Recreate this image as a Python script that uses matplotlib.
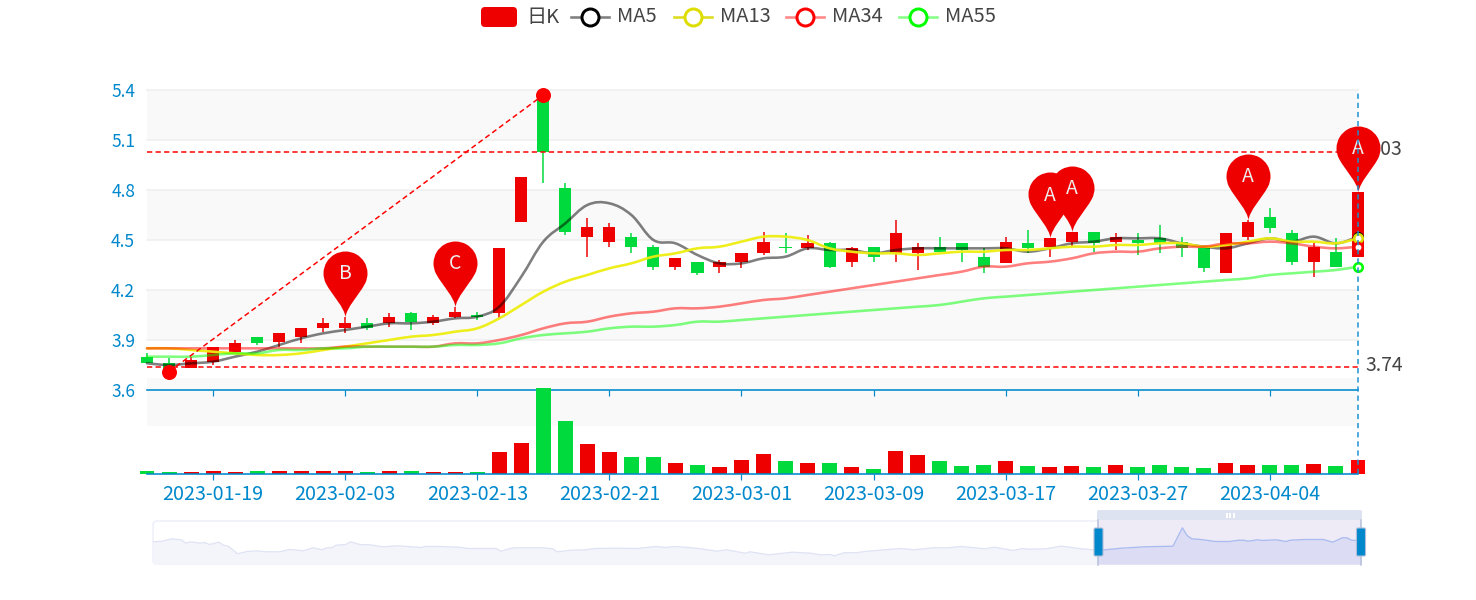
import numpy as np
import matplotlib
matplotlib.use('Agg')
import matplotlib.pyplot as plt
from matplotlib.path import Path
from matplotlib.patches import PathPatch, FancyBboxPatch, Rectangle
from matplotlib.transforms import ScaledTranslation

plt.rcParams['font.family'] = ['Noto Sans CJK SC', 'DejaVu Sans']

# candles (index 0 = 2023-01-16)
opens = [3.80, 3.76, 3.73, 3.77, 3.83, 3.92, 3.89, 3.92, 3.97, 3.97, 4.00, 4.00, 4.06, 4.00, 4.04, 4.05,
         4.06, 4.61, 5.37, 4.81, 4.52, 4.49, 4.52, 4.46, 4.34, 4.37, 4.34, 4.37, 4.42, 4.46, 4.45, 4.48,
         4.37, 4.46, 4.42, 4.42, 4.46, 4.48, 4.40, 4.36, 4.48, 4.46, 4.49, 4.55, 4.49, 4.50, 4.51, 4.49,
         4.45, 4.30, 4.52, 4.64, 4.54, 4.37, 4.43, 4.40]
closes = [3.76, 3.72, 3.78, 3.86, 3.88, 3.88, 3.94, 3.97, 4.00, 4.00, 3.97, 4.04, 4.01, 4.04, 4.07, 4.04,
          4.45, 4.88, 5.03, 4.55, 4.58, 4.58, 4.46, 4.34, 4.39, 4.30, 4.37, 4.42, 4.49, 4.45, 4.48, 4.34,
          4.45, 4.40, 4.54, 4.46, 4.43, 4.44, 4.34, 4.49, 4.45, 4.51, 4.55, 4.48, 4.52, 4.48, 4.48, 4.45,
          4.33, 4.54, 4.61, 4.57, 4.37, 4.46, 4.34, 4.79]
lows = [3.76, 3.71, 3.73, 3.75, 3.83, 3.87, 3.86, 3.88, 3.95, 3.94, 3.96, 3.98, 3.96, 3.99, 4.03, 4.02,
        4.03, 4.61, 4.84, 4.53, 4.40, 4.46, 4.42, 4.32, 4.32, 4.29, 4.30, 4.33, 4.41, 4.42, 4.44, 4.33,
        4.34, 4.37, 4.37, 4.32, 4.43, 4.37, 4.30, 4.36, 4.42, 4.40, 4.46, 4.43, 4.44, 4.41, 4.42, 4.40,
        4.31, 4.30, 4.50, 4.54, 4.35, 4.28, 4.34, 4.40]
highs = [3.82, 3.79, 3.80, 3.86, 3.90, 3.92, 3.94, 3.97, 4.03, 4.04, 4.03, 4.06, 4.07, 4.05, 4.10, 4.07,
         4.45, 4.88, 5.37, 4.84, 4.63, 4.60, 4.54, 4.47, 4.39, 4.37, 4.38, 4.42, 4.55, 4.54, 4.53, 4.49,
         4.46, 4.46, 4.62, 4.48, 4.52, 4.48, 4.45, 4.52, 4.56, 4.51, 4.55, 4.55, 4.54, 4.54, 4.59, 4.52,
         4.45, 4.54, 4.62, 4.69, 4.56, 4.48, 4.51, 4.79]

ma5 = [3.76, 3.75, 3.76, 3.77, 3.80, 3.83, 3.87, 3.91, 3.94, 3.96, 3.98, 4.00, 4.00, 4.01, 4.03, 4.04,
       4.10, 4.28, 4.49, 4.60, 4.71, 4.72, 4.65, 4.50, 4.48, 4.41, 4.36, 4.36, 4.39, 4.40, 4.45, 4.44,
       4.44, 4.42, 4.44, 4.45, 4.45, 4.45, 4.45, 4.45, 4.43, 4.45, 4.48, 4.49, 4.51, 4.51, 4.51, 4.48,
       4.46, 4.45, 4.48, 4.51, 4.49, 4.52, 4.48, 4.52]
ma13 = [3.85, 3.85, 3.84, 3.83, 3.82, 3.81, 3.81, 3.82, 3.84, 3.86, 3.88, 3.90, 3.92, 3.93, 3.95, 3.97,
        4.03, 4.11, 4.19, 4.25, 4.29, 4.33, 4.36, 4.40, 4.42, 4.45, 4.46, 4.49, 4.52, 4.52, 4.50, 4.45,
        4.43, 4.42, 4.42, 4.41, 4.42, 4.43, 4.43, 4.44, 4.44, 4.45, 4.46, 4.46, 4.47, 4.47, 4.48, 4.48,
        4.46, 4.47, 4.49, 4.51, 4.49, 4.49, 4.48, 4.51]
ma34 = [3.85, 3.85, 3.85, 3.85, 3.85, 3.85, 3.85, 3.85, 3.85, 3.86, 3.86, 3.86, 3.86, 3.86, 3.88, 3.88,
        3.90, 3.93, 3.97, 4.00, 4.01, 4.04, 4.06, 4.07, 4.09, 4.09, 4.10, 4.12, 4.14, 4.15, 4.17, 4.19,
        4.21, 4.23, 4.25, 4.27, 4.29, 4.31, 4.34, 4.34, 4.36, 4.37, 4.39, 4.42, 4.43, 4.43, 4.45, 4.46,
        4.46, 4.48, 4.48, 4.49, 4.48, 4.46, 4.45, 4.46]
ma55 = [3.80, 3.80, 3.80, 3.81, 3.82, 3.82, 3.84, 3.84, 3.85, 3.85, 3.86, 3.86, 3.86, 3.86, 3.87, 3.87,
        3.88, 3.91, 3.93, 3.94, 3.95, 3.97, 3.98, 3.98, 3.99, 4.01, 4.01, 4.02, 4.03, 4.04, 4.05, 4.06,
        4.07, 4.08, 4.09, 4.10, 4.11, 4.13, 4.15, 4.16, 4.17, 4.18, 4.19, 4.20, 4.21, 4.22, 4.23, 4.24,
        4.25, 4.26, 4.27, 4.29, 4.30, 4.31, 4.32, 4.34]

volume = [2.7, 2, 1.7, 2.7, 2, 2.7, 2.7, 3, 3, 3, 2, 2.7, 3, 2, 2.3, 2,
          22, 31, 86, 53, 30, 22, 17, 17, 10.7, 8.7, 7.3, 14, 20.3, 13, 11, 10.7,
          7.3, 5, 23, 19, 13, 8.3, 9, 13, 8.3, 6.7, 7.7, 7.3, 8.7, 7.3, 9.3, 7,
          6.3, 11.3, 9, 9.3, 9, 10, 8, 14]

tick_index = [3, 9, 15, 21, 27, 33, 39, 45, 51]
tick_labels = ['2023-01-19', '2023-02-03', '2023-02-13', '2023-02-21', '2023-03-01',
               '2023-03-09', '2023-03-17', '2023-03-27', '2023-04-04']

pin_index = [9, 14, 41, 42, 50, 55]
pin_labels = ['B', 'C', 'A', 'A', 'A', 'A']

min_index, min_price = 1, 3.71
max_index, max_price = 18, 5.37
mark_low, mark_high = 3.74, 5.03

# overview line under the slider, whole history
mini_day = [0, 2, 4, 6, 7, 8, 10, 11, 12, 14, 15, 16, 18, 20, 22, 24, 27, 29, 32, 34, 36, 37, 38, 39, 41, 42,
            44, 46, 49, 52, 55, 57, 58, 61, 65, 67, 73, 74, 76, 77, 83, 85, 86, 89, 92, 94, 98, 103, 107, 109,
            111, 114, 116, 120, 122, 126, 127, 131, 136, 140, 142, 144, 145, 147, 150, 152, 154, 159, 162,
            166, 169, 172, 177, 179, 183, 185, 186, 190, 193, 194, 197, 200, 201, 206, 211, 217, 219, 220,
            221, 223, 226, 229, 231, 232, 233, 235, 236, 239, 241, 242, 245, 249, 251, 253, 254, 255, 257]
mini_level = [22.2, 22.8, 25.2, 24.2, 20.8, 22.2, 20.8, 21.5, 19.5, 21.8, 18.8, 17.8, 10.2, 12.5, 13.2, 12.2,
              12.2, 14.5, 13.2, 16.2, 14.2, 16.2, 16.2, 18.8, 19.5, 22.2, 19.5, 19.2, 17.2, 18.2, 17.2, 16.5,
              17.5, 17.5, 16.8, 15.5, 15.5, 12.8, 15.5, 16.2, 16.2, 15.2, 12.2, 13.8, 14.2, 15.5, 15.8, 15.5,
              17.5, 16.5, 17.5, 16.5, 15.5, 12.8, 14.2, 10.8, 12.2, 9.2, 11.8, 10.8, 9.2, 9.5, 8.2, 11.2, 11.5,
              12.8, 13.5, 15.5, 14.2, 16.2, 16.2, 17.5, 15.2, 16.8, 13.5, 15.5, 14.8, 15.2, 17.8, 17.5, 15.5,
              14.2, 13.5, 15.8, 17.2, 17.8, 36.2, 28.5, 25.2, 24.5, 22.5, 22.5, 23.8, 23.8, 22.8, 24.2, 23.5,
              24.2, 22.5, 23.8, 24.5, 24.5, 21.8, 26.2, 26.2, 23.8, 23.2]
mini_split = 201

red = '#ee0000'
green = '#00da3c'
blue = '#0088cc'
text_color = '#444444'
px = 0.72  # points per pixel at dpi 100


def px_axes(left, top, right, bottom, zorder):
    a = fig.add_axes([left / 1476, 1 - bottom / 600, (right - left) / 1476, (bottom - top) / 600], zorder=zorder)
    a.patch.set_visible(False)
    return a


def smooth_path(ys):
    # same kind of curve as a smooth echarts line
    pts = np.column_stack([np.arange(len(ys)), ys])
    verts = [pts[0]]
    codes = [Path.MOVETO]
    for i in range(len(pts) - 1):
        before = pts[max(i - 1, 0)]
        after = pts[min(i + 2, len(pts) - 1)]
        verts += [pts[i] + (pts[i + 1] - before) * 0.18, pts[i + 1] - (after - pts[i]) * 0.18, pts[i + 1]]
        codes += [Path.CURVE4, Path.CURVE4, Path.CURVE4]
    return Path(verts, codes)


def pin_marker():
    r, cy, a = 22, 44, np.radians(28)
    arc = Path.arc(-28, 208)
    circle = arc.vertices * r + [0, cy]
    right = circle[0]
    left = circle[-1]
    step = np.array([np.sin(a), np.cos(a)]) * 13
    verts = [(0, 0), (0.8, 10), right - step, right]
    codes = [Path.MOVETO, Path.CURVE4, Path.CURVE4, Path.CURVE4]
    verts += list(circle[1:])
    codes += list(arc.codes[1:])
    verts += [left - step * [-1, 1], (-0.8, 10), (0, 0), (0, 0)]
    codes += [Path.CURVE4, Path.CURVE4, Path.CURVE4, Path.CLOSEPOLY]
    return Path(verts, codes)


fig = plt.figure(figsize=(14.76, 6), dpi=100)
index = np.arange(len(opens))
colors = [red if c > o else green for o, c in zip(opens, closes)]

# price panel
ax = px_axes(147, 90, 1358, 390, 2)
ax.set_xlim(0, 55)
ax.set_ylim(3.6, 5.4)
for low in [5.1, 4.5, 3.9]:
    ax.axhspan(low, low + 0.3, color='#f9f9f9', lw=0, zorder=0)
y_ticks = [3.6, 3.9, 4.2, 4.5, 4.8, 5.1, 5.4]
for y in y_ticks[1:]:
    ax.axhline(y, color='#eeeeee', lw=1.5 * px, zorder=0.5, clip_on=False)
ax.set_yticks(y_ticks)
ax.set_yticklabels([f'{y:.1f}' for y in y_ticks], color=blue, fontsize=12.5)
for label in ax.get_yticklabels():
    label.set_transform(label.get_transform() + ScaledTranslation(0, 1 / 100, fig.dpi_scale_trans))
ax.set_xticks(tick_index)
ax.set_xticklabels([])
ax.tick_params(axis='y', length=0, pad=12 * px)
ax.tick_params(axis='x', length=6 * px, width=1.2 * px, color=blue)
for side in ['top', 'left', 'right']:
    ax.spines[side].set_visible(False)
ax.spines['bottom'].set_color(blue)
ax.spines['bottom'].set_linewidth(1.6 * px)

ax.vlines(index, lows, highs, colors=colors, lw=1.5 * px, zorder=2, clip_on=False)
tops = np.maximum(opens, closes)
bottoms = np.minimum(opens, closes)
ax.bar(index, tops - bottoms, bottom=bottoms, width=0.55, color=colors, lw=0, zorder=3, clip_on=False)

ma_styles = [(ma5, '#000000', 0.5), (ma13, '#eeee11', 0.95), (ma34, '#ff0000', 0.5), (ma55, '#00ff00', 0.5)]
for values, color, alpha in ma_styles:
    ax.add_patch(PathPatch(smooth_path(values), fill=False, ec=color, alpha=alpha, lw=2.6 * px, zorder=4,
                           capstyle='round', joinstyle='round', clip_on=False))

for y in [mark_low, mark_high]:
    ax.plot([0, 55], [y, y], color='#ff0000', lw=1.5 * px, dashes=(3.5, 2.2), zorder=5)
ax.plot([min_index, max_index], [min_price, max_price], color='#ff0000', lw=1.5 * px, dashes=(3.5, 2.2),
        zorder=5, clip_on=False)
ax.plot([min_index, max_index], [min_price, max_price], 'o', color='#ff0000', ms=15 * px, mew=0, zorder=6,
        clip_on=False)
ax.annotate(f'{mark_low:.2f}', (55, mark_low), xytext=(7, 1), textcoords='offset pixels', va='center', ha='left',
            color=text_color, fontsize=14, annotation_clip=False, zorder=6)
ax.annotate(f'{mark_high:.2f}', (55, mark_high), xytext=(7, 2), textcoords='offset pixels', va='center', ha='left',
            color=text_color, fontsize=14, annotation_clip=False, zorder=6)

pin = pin_marker()
for i, label in zip(pin_index, pin_labels):
    ax.plot([i], [highs[i]], marker=pin, ms=2 * 66 * px, mfc=red, mec='none', zorder=7, clip_on=False)
    ax.annotate(label, (i, highs[i]), xytext=(0, 43), textcoords='offset pixels', ha='center', va='center',
                color='#eeeeee', fontsize=14, annotation_clip=False, zorder=8)

for values, color in [(ma5, '#000000'), (ma13, '#dddd00'), (ma34, '#ff0000'), (ma55, '#00ff00')]:
    ax.plot([55], [values[-1]], 'o', ms=8.5 * px, mfc='white', mec=color, mew=2.6 * px, zorder=8, clip_on=False)

# volume panel, the bands sit behind the price panel
ax_band = px_axes(147, 378, 1358, 474, 1)
ax_band.axis('off')
ax_band.set_xlim(0, 55)
ax_band.set_ylim(0, 2)
ax_band.axhspan(1, 2, color='#f9f9f9', lw=0)

ax_vol = px_axes(147, 378, 1358, 474, 3)
ax_vol.set_xlim(0, 55)
ax_vol.set_ylim(0, 96)
bar_colors = list(colors)
bar_colors[-1] = '#ff0000'
ax_vol.bar(index, volume, width=0.68, color=bar_colors, lw=0, clip_on=False)
ax_vol.set_yticks([])
ax_vol.set_xticks(tick_index)
ax_vol.set_xticklabels(tick_labels, color=blue, fontsize=14.2)
ax_vol.tick_params(axis='x', length=6 * px, width=1.2 * px, color=blue, pad=4 * px)
for side in ['top', 'left', 'right']:
    ax_vol.spines[side].set_visible(False)
ax_vol.spines['bottom'].set_color(blue)
ax_vol.spines['bottom'].set_linewidth(1.6 * px)
# crosshair at the last day, up through the price panel
ax_vol.axvline(55, ymin=0, ymax=384 / 96, color='#1a8fd1', lw=1.5 * px, dashes=(3.5, 2.6), clip_on=False, zorder=9)

# slider frame and legend are laid out in figure pixels
ui_back = px_axes(0, 0, 1476, 600, 0)
ui_back.set_xlim(0, 1476)
ui_back.set_ylim(600, 0)
ui_back.axis('off')
ui_back.add_patch(FancyBboxPatch((153, 521), 1208, 43, boxstyle='round,pad=0,rounding_size=4', fc='white',
                                 ec='#eeeefa', lw=1.5 * px))
ui_back.add_patch(Rectangle((1098, 520), 263, 45, fc='#eeeaf6', lw=0))

ax_zoom = px_axes(153, 521, 1361, 564, 1)
ax_zoom.axis('off')
ax_zoom.set_xlim(0, 257)
ax_zoom.set_ylim(0, 43)
mini_day = np.array(mini_day)
mini_level = np.array(mini_level)
old = mini_day <= mini_split
new = mini_day >= mini_split
ax_zoom.fill_between(mini_day[old], mini_level[old], 0, color='#f4f5fb', lw=0)
ax_zoom.plot(mini_day[old], mini_level[old], color='#dfe3f3', lw=1.3 * px)
ax_zoom.fill_between(mini_day[new], mini_level[new], 0, color='#dcdcf4', lw=0)
ax_zoom.plot(mini_day[new], mini_level[new], color='#a8bcf0', lw=1.3 * px)

ui = px_axes(0, 0, 1476, 600, 6)
ui.set_xlim(0, 1476)
ui.set_ylim(600, 0)
ui.axis('off')
ui.add_patch(FancyBboxPatch((1097, 510), 265, 10, boxstyle='round,pad=0,rounding_size=2', fc='#dde3f1', lw=0))
for x in [1225.5, 1229, 1232.5]:
    ui.add_patch(Rectangle((x, 513), 2, 5, fc='white', lw=0))
for x in [1098, 1361]:
    ui.plot([x, x], [520, 565], color='#b5bfd8', lw=1.5 * px, zorder=2)
for x in [1094, 1356.5]:
    ui.add_patch(FancyBboxPatch((x, 528), 9, 28, boxstyle='round,pad=0,rounding_size=1.5', fc=blue, ec='#aebcd8',
                                lw=1.1 * px, zorder=3))

# legend
ui.add_patch(FancyBboxPatch((481, 7), 36, 20, boxstyle='round,pad=0,rounding_size=4', fc=red, lw=0))
ui.text(526, 17, '日K', color=text_color, fontsize=14.5, va='center', ha='left')
legend_items = [('MA5', 571, '#808080', '#000000'), ('MA13', 674, '#dedc20', '#dddd00'),
                ('MA34', 786, '#ff8888', '#ff0000'), ('MA55', 899, '#88ff88', '#00ff00')]
for name, x, line_color, ring in legend_items:
    ui.plot([x, x + 38], [17, 17], color=line_color, lw=2.6 * px)
    ui.plot([x + 19], [17], 'o', ms=17 * px, mfc='white', mec=ring, mew=3 * px)
    ui.text(x + 46, 16, name, color=text_color, fontsize=14.5, va='center', ha='left')

plt.savefig('out.png', dpi=100)
